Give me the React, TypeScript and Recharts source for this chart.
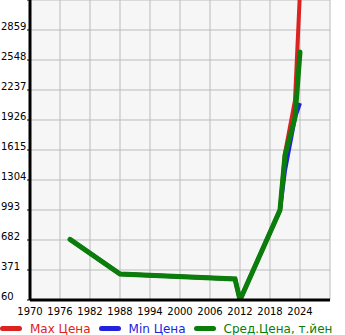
import React from "react";
import { CartesianGrid, Legend, Line, LineChart, XAxis, YAxis } from "recharts";

const years = [1978, 1988, 2011, 2012, 2020, 2021, 2023, 2024];
const maxPrice = [689, 330, 278, 60, 993, 1580, 2130, 3260];
const minPrice = [689, 330, 278, 60, 993, 1400, 1950, 2100];
const avgPrice = [689, 330, 278, 60, 993, 1560, 1950, 2630];

const xTicks = [1970, 1976, 1982, 1988, 1994, 2000, 2006, 2012, 2018, 2024, 2030];
const yTicks = [60, 371, 682, 993, 1304, 1615, 1926, 2237, 2548, 2859, 3170];

const seriesNames = ["Max Цена", "Min Цена", "Сред.Цена, т.йен"];
const seriesColors = ["#dd2222", "#2222dd", "#0b7d0b"];

const data = years.map((year, i) => ({
  year,
  max: maxPrice[i],
  min: minPrice[i],
  avg: avgPrice[i],
}));

const FONT = "'DejaVu Sans', sans-serif";

function XTick({ x, y, payload }: any) {
  if (payload.value === 2030) return null;
  return (
    <text x={x} y={y + 15} textAnchor="middle" fontSize={10} fontFamily={FONT} fill="#000">
      {payload.value}
    </text>
  );
}

function YTick({ y, payload }: any) {
  if (payload.value === 3170) return null;
  return (
    <text x={1} y={y - 0.5} textAnchor="start" fontSize={10} fontFamily={FONT} fill="#000">
      {payload.value}
    </text>
  );
}

function LegendRow() {
  return (
    <div
      style={{
        display: "flex",
        alignItems: "center",
        height: 18,
        paddingTop: 5,
        boxSizing: "border-box",
        fontFamily: FONT,
        fontSize: 12,
        lineHeight: "14px",
        whiteSpace: "nowrap",
      }}
    >
      {seriesNames.map((name, i) => (
        <span key={name} style={{ display: "inline-flex", alignItems: "center", marginRight: 8 }}>
          <span
            style={{
              display: "inline-block",
              width: 22,
              height: 5,
              borderRadius: 3,
              background: seriesColors[i],
              marginRight: 8,
            }}
          />
          <span style={{ color: seriesColors[i] }}>{name}</span>
        </span>
      ))}
    </div>
  );
}

export default function App() {
  return (
    <div style={{ position: "absolute", left: 0, top: 0, width: 345, height: 335, background: "#fff" }}>
      <LineChart width={345} height={335} data={data} margin={{ top: 0, right: 15, left: 0, bottom: 0 }}>
        <CartesianGrid fill="#f6f6f6" stroke="#bbbbbb" strokeWidth={1} />
        <XAxis
          dataKey="year"
          type="number"
          domain={[1970, 2030]}
          ticks={xTicks}
          interval={0}
          height={17}
          tickLine={false}
          tickSize={0}
          tickMargin={0}
          axisLine={{ stroke: "#000", strokeWidth: 3 }}
          tick={<XTick />}
        />
        <YAxis
          type="number"
          domain={[60, 3170]}
          ticks={yTicks}
          interval={0}
          allowDataOverflow
          width={30}
          tickSize={3}
          tickMargin={0}
          tickLine={{ stroke: "#000" }}
          axisLine={{ stroke: "#000", strokeWidth: 3 }}
          tick={<YTick />}
        />
        <Legend
          verticalAlign="bottom"
          height={18}
          wrapperStyle={{ left: 0, bottom: 0, width: 345 }}
          content={() => <LegendRow />}
        />
        <Line dataKey="max" name={seriesNames[0]} stroke={seriesColors[0]} strokeWidth={4} dot={false} isAnimationActive={false} />
        <Line dataKey="min" name={seriesNames[1]} stroke={seriesColors[1]} strokeWidth={4} dot={false} isAnimationActive={false} />
        <Line
          dataKey="avg"
          name={seriesNames[2]}
          stroke={seriesColors[2]}
          strokeWidth={5}
          strokeLinecap="round"
          dot={false}
          isAnimationActive={false}
        />
      </LineChart>
    </div>
  );
}
